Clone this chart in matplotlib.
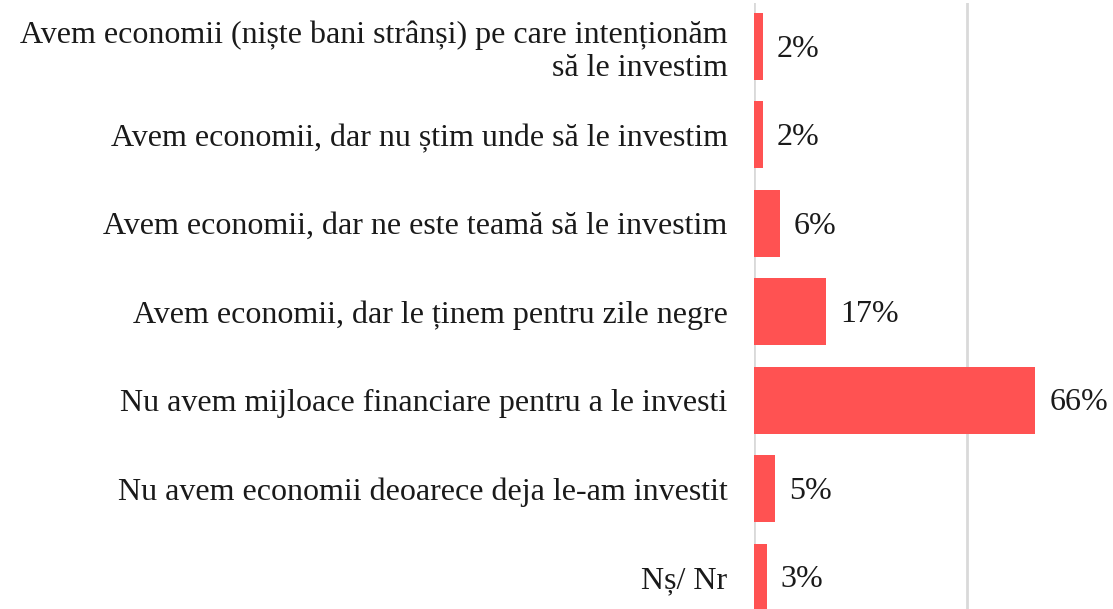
import matplotlib.pyplot as plt

# date din grafic
labels = [
    'Avem economii (niște bani strânși) pe care intenționăm\nsă le investim',
    'Avem economii, dar nu știm unde să le investim',
    'Avem economii, dar ne este teamă să le investim',
    'Avem economii, dar le ținem pentru zile negre',
    'Nu avem mijloace financiare pentru a le investi',
    'Nu avem economii deoarece deja le-am investit',
    'Nș/ Nr',
]
values = [2, 2, 6, 17, 66, 5, 3]

plt.rcParams['font.family'] = ['Liberation Serif', 'DejaVu Serif']

fig = plt.figure(figsize=(11.13, 6.09), dpi=100)
ax = fig.add_axes([754 / 1113, 0, 1 - 754 / 1113, 606 / 609])

pos = list(range(len(values)))
ax.barh(pos, values, height=0.76, color='#FF5252', zorder=3)

for p, v in zip(pos, values):
    ax.annotate(f'{v}%', xy=(v, p), xytext=(10, -2), textcoords='offset points',
                va='center', ha='left', fontsize=23, color='#1a1a1a')

ax.set_yticks(pos)
ax.set_yticklabels(labels, fontsize=23, color='#1a1a1a', linespacing=1.2)
ax.tick_params(axis='y', length=0, pad=19)
ax.set_xticks([0, 50])
ax.tick_params(axis='x', length=0, labelbottom=False)
ax.xaxis.grid(True, color='#D9D9D9', linewidth=2)
ax.set_axisbelow(True)
ax.set_xlim(0, 84.2)
ax.set_ylim(6.36, -0.49)
for s in ax.spines.values():
    s.set_visible(False)

plt.savefig('out.png', dpi=100)
